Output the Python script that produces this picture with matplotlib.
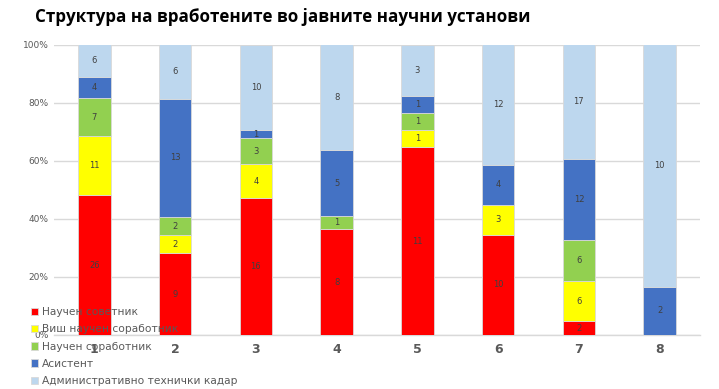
import matplotlib
matplotlib.use("Agg")
import matplotlib.pyplot as plt
from matplotlib import font_manager
import numpy as np

categories = ["1", "2", "3", "4", "5", "6", "7", "8"]
series_names = ["Научен советник", "Виш научен соработник", "Научен соработник",
                "Асистент", "Административно технички кадар"]
nauchen_sovetnik = [26, 9, 16, 8, 11, 10, 2, 0]
vish_nauchen = [11, 2, 4, 0, 1, 3, 6, 0]
nauchen_sorabotnik = [7, 2, 3, 1, 1, 0, 6, 0]
asistent = [4, 13, 1, 5, 1, 4, 12, 2]
admin = [6, 6, 10, 8, 3, 12, 17, 10]
colors = ["#FF0000", "#FFFF00", "#92D050", "#4472C4", "#BDD7EE"]
yticklabels = ["0%", "20%", "40%", "60%", "80%", "100%"]

names = {f.name for f in font_manager.fontManager.ttflist}

data = np.array([nauchen_sovetnik, vish_nauchen, nauchen_sorabotnik, asistent, admin], dtype=float)
totals = data.sum(axis=0)
pct = data / totals * 100

fig = plt.figure(figsize=(7.19, 3.89), dpi=100)
ax = fig.add_axes([54/719, 1-335/389, (700-54)/719, (335-44.5)/389])

x = np.arange(len(categories))
bottom = np.zeros(len(categories))
for i in range(len(series_names)):
    ax.bar(x, pct[i], 0.4, bottom=bottom, color=colors[i], label=series_names[i],
           edgecolor="#d9d9d9", linewidth=0.6, zorder=3)
    for j in range(len(categories)):
        if data[i, j] > 0:
            ax.text(x[j], bottom[j] + pct[i, j] / 2, f"{int(data[i, j])}",
                    ha="center", va="center", fontsize=6, color="#404040", zorder=4)
    bottom += pct[i]

ax.set_xlim(-0.5, len(categories) - 0.5)
ax.set_ylim(0, 100)
ax.set_yticks([0, 20, 40, 60, 80, 100])
ax.set_yticklabels(yticklabels, fontsize=6.5, color="#595959")
ax.set_xticks(x)
ax.set_xticklabels(categories, fontsize=9, fontweight="bold", color="#595959")
ax.tick_params(axis="both", length=0)
ax.tick_params(axis="x", pad=6)
ax.tick_params(axis="y", pad=4)
ax.grid(axis="y", color="#d9d9d9", linewidth=1, zorder=0)
for s in ["top", "right", "left"]:
    ax.spines[s].set_visible(False)
ax.spines["bottom"].set_color("#d9d9d9")
ax.spines["bottom"].set_linewidth(1)

leg = fig.legend(loc="upper left", bbox_to_anchor=(31/719, 1-307/389), frameon=False,
                 fontsize=7.7, handlelength=0.7, handleheight=0.7, handletextpad=0.3,
                 labelspacing=0.68, borderaxespad=0, borderpad=0)
for t in leg.get_texts():
    t.set_color("#595959")

title_font = "Liberation Sans Narrow" if "Liberation Sans Narrow" in names else "Open Sans"
title = fig.text(35/719, 1-17/389, "Структура на вработените во јавните научни установи",
                 fontsize=18, fontweight="bold", family=title_font, va="center", ha="left",
                 color="black")
r = fig.canvas.get_renderer()
w = title.get_window_extent(r).width
title.set_fontsize(18 * 495 / w)

fig.savefig("out.png", dpi=100)
